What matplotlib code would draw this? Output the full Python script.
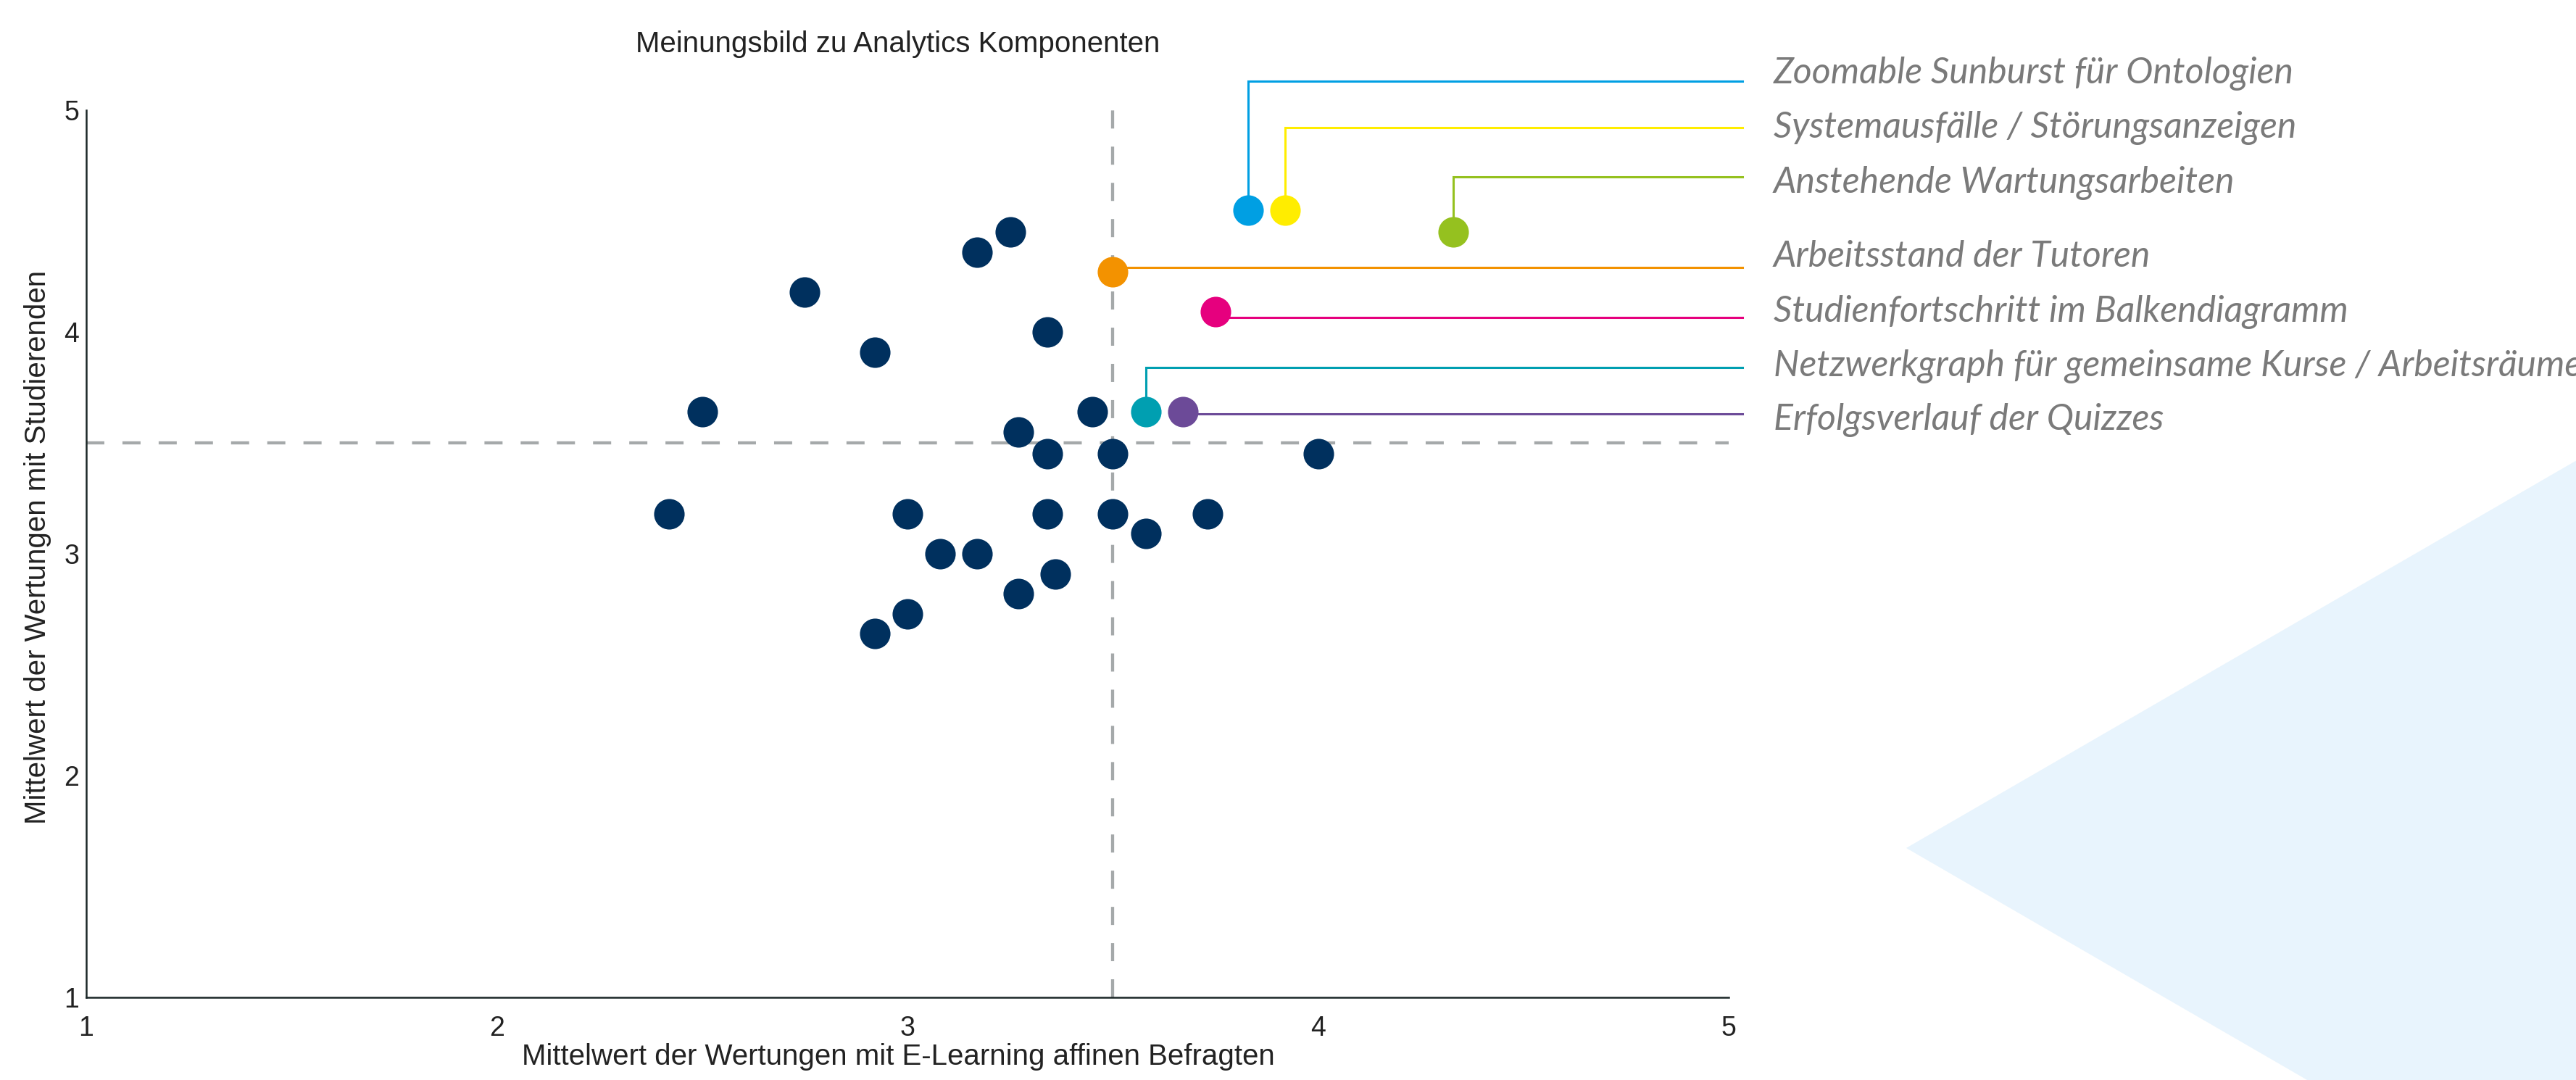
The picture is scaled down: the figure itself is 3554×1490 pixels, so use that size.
import matplotlib.pyplot as plt
from matplotlib.patches import Polygon

# navy dots: all other components
navy_x = [3.25, 3.17, 2.75, 3.34, 2.92, 2.50, 3.45, 3.27, 3.34, 3.50, 4.00, 2.42,
          3.00, 3.34, 3.50, 3.73, 3.58, 3.08, 3.17, 3.36, 3.27, 3.00, 2.92]
navy_y = [4.45, 4.36, 4.18, 4.00, 3.91, 3.64, 3.64, 3.55, 3.45, 3.45, 3.45, 3.18,
          3.18, 3.18, 3.18, 3.18, 3.09, 3.00, 3.00, 2.91, 2.82, 2.73, 2.64]

# highlighted components
names = [
    "Zoomable Sunburst für Ontologien",
    "Systemausfälle / Störungsanzeigen",
    "Anstehende Wartungsarbeiten",
    "Arbeitsstand der Tutoren",
    "Studienfortschritt im Balkendiagramm",
    "Netzwerkgraph für gemeinsame Kurse / Arbeitsräume",
    "Erfolgsverlauf der Quizzes",
]
comp_x = [3.83, 3.92, 4.33, 3.50, 3.75, 3.58, 3.67]
comp_y = [4.55, 4.55, 4.45, 4.27, 4.09, 3.64, 3.64]
colors = ["#009fe3", "#ffed00", "#95c11f", "#f39200", "#e6007e", "#009fb1", "#6c4a98"]

# label layout (data units, outside the axes)
line_y = [5.13, 4.92, 4.70, 4.29, 4.065, 3.84, 3.63]
text_y = [5.12, 4.877, 4.627, 4.295, 4.046, 3.80, 3.559]
line_end = 5.034
text_x = 5.109

plt.rcParams["font.family"] = ["Liberation Sans", "DejaVu Sans"]

fig = plt.figure(figsize=(35.55, 14.9), dpi=100)
ax = fig.add_axes([119 / 3555, 1 - 1376 / 1490, (2385 - 119) / 3555, (1376 - 152) / 1490])

# light blue triangle in the background
fig.patches.append(Polygon([(0.7398, 0.2148), (1.0, 0.5738), (1.0, 0.0), (0.8954, 0.0)],
                           closed=True, transform=fig.transFigure,
                           facecolor="#e8f4fd", edgecolor="none", zorder=0))
ax.set_facecolor("none")

ax.set_xlim(1, 5)
ax.set_ylim(1, 5)

# mean lines
dash = (0, (5.8, 5.8))
ax.axvline(3.5, color="#a5a9aa", lw=3.1, ls=dash, zorder=1)
ax.axhline(3.5, color="#a5a9aa", lw=3.1, ls=dash, zorder=1)

ax.scatter(navy_x, navy_y, s=920, color="#00305e", linewidths=0, zorder=3)

for name, x, y, c, ly, ty in zip(names, comp_x, comp_y, colors, line_y, text_y):
    ax.plot([x, x, line_end], [y, ly, ly], color=c, lw=2.2, clip_on=False, zorder=2,
            solid_joinstyle="miter")
    ax.scatter([x], [y], s=920, color=c, linewidths=0, zorder=4, clip_on=False)
    ax.text(text_x, ty, name, va="baseline", ha="left", fontsize=36,
            family=["Lato", "DejaVu Sans"], style="italic", weight="normal",
            color="#7a7a7a", clip_on=False)

for side in ["top", "right"]:
    ax.spines[side].set_visible(False)
for side in ["left", "bottom"]:
    ax.spines[side].set_color("#1b2627")
    ax.spines[side].set_linewidth(1.8)

ax.set_xticks([1, 2, 3, 4, 5])
ax.set_yticks([1, 2, 3, 4, 5])
ax.tick_params(axis="x", length=0, pad=18, labelsize=27, labelcolor="#222222")
ax.tick_params(axis="y", length=0, pad=7, labelsize=27, labelcolor="#222222")

fig.text(1239 / 3555, 1 - 61 / 1490, "Meinungsbild zu Analytics Komponenten",
         ha="center", va="center", fontsize=29, color="#222222")
fig.text(1239 / 3555, 1 - 1458 / 1490,
         "Mittelwert der Wertungen mit E-Learning affinen Befragten",
         ha="center", va="center", fontsize=29, color="#222222")
fig.text(52 / 3555, 1 - 755 / 1490, "Mittelwert der Wertungen mit Studierenden",
         ha="center", va="center", rotation=90, fontsize=29, color="#222222")

fig.savefig("out.png", dpi=100)
